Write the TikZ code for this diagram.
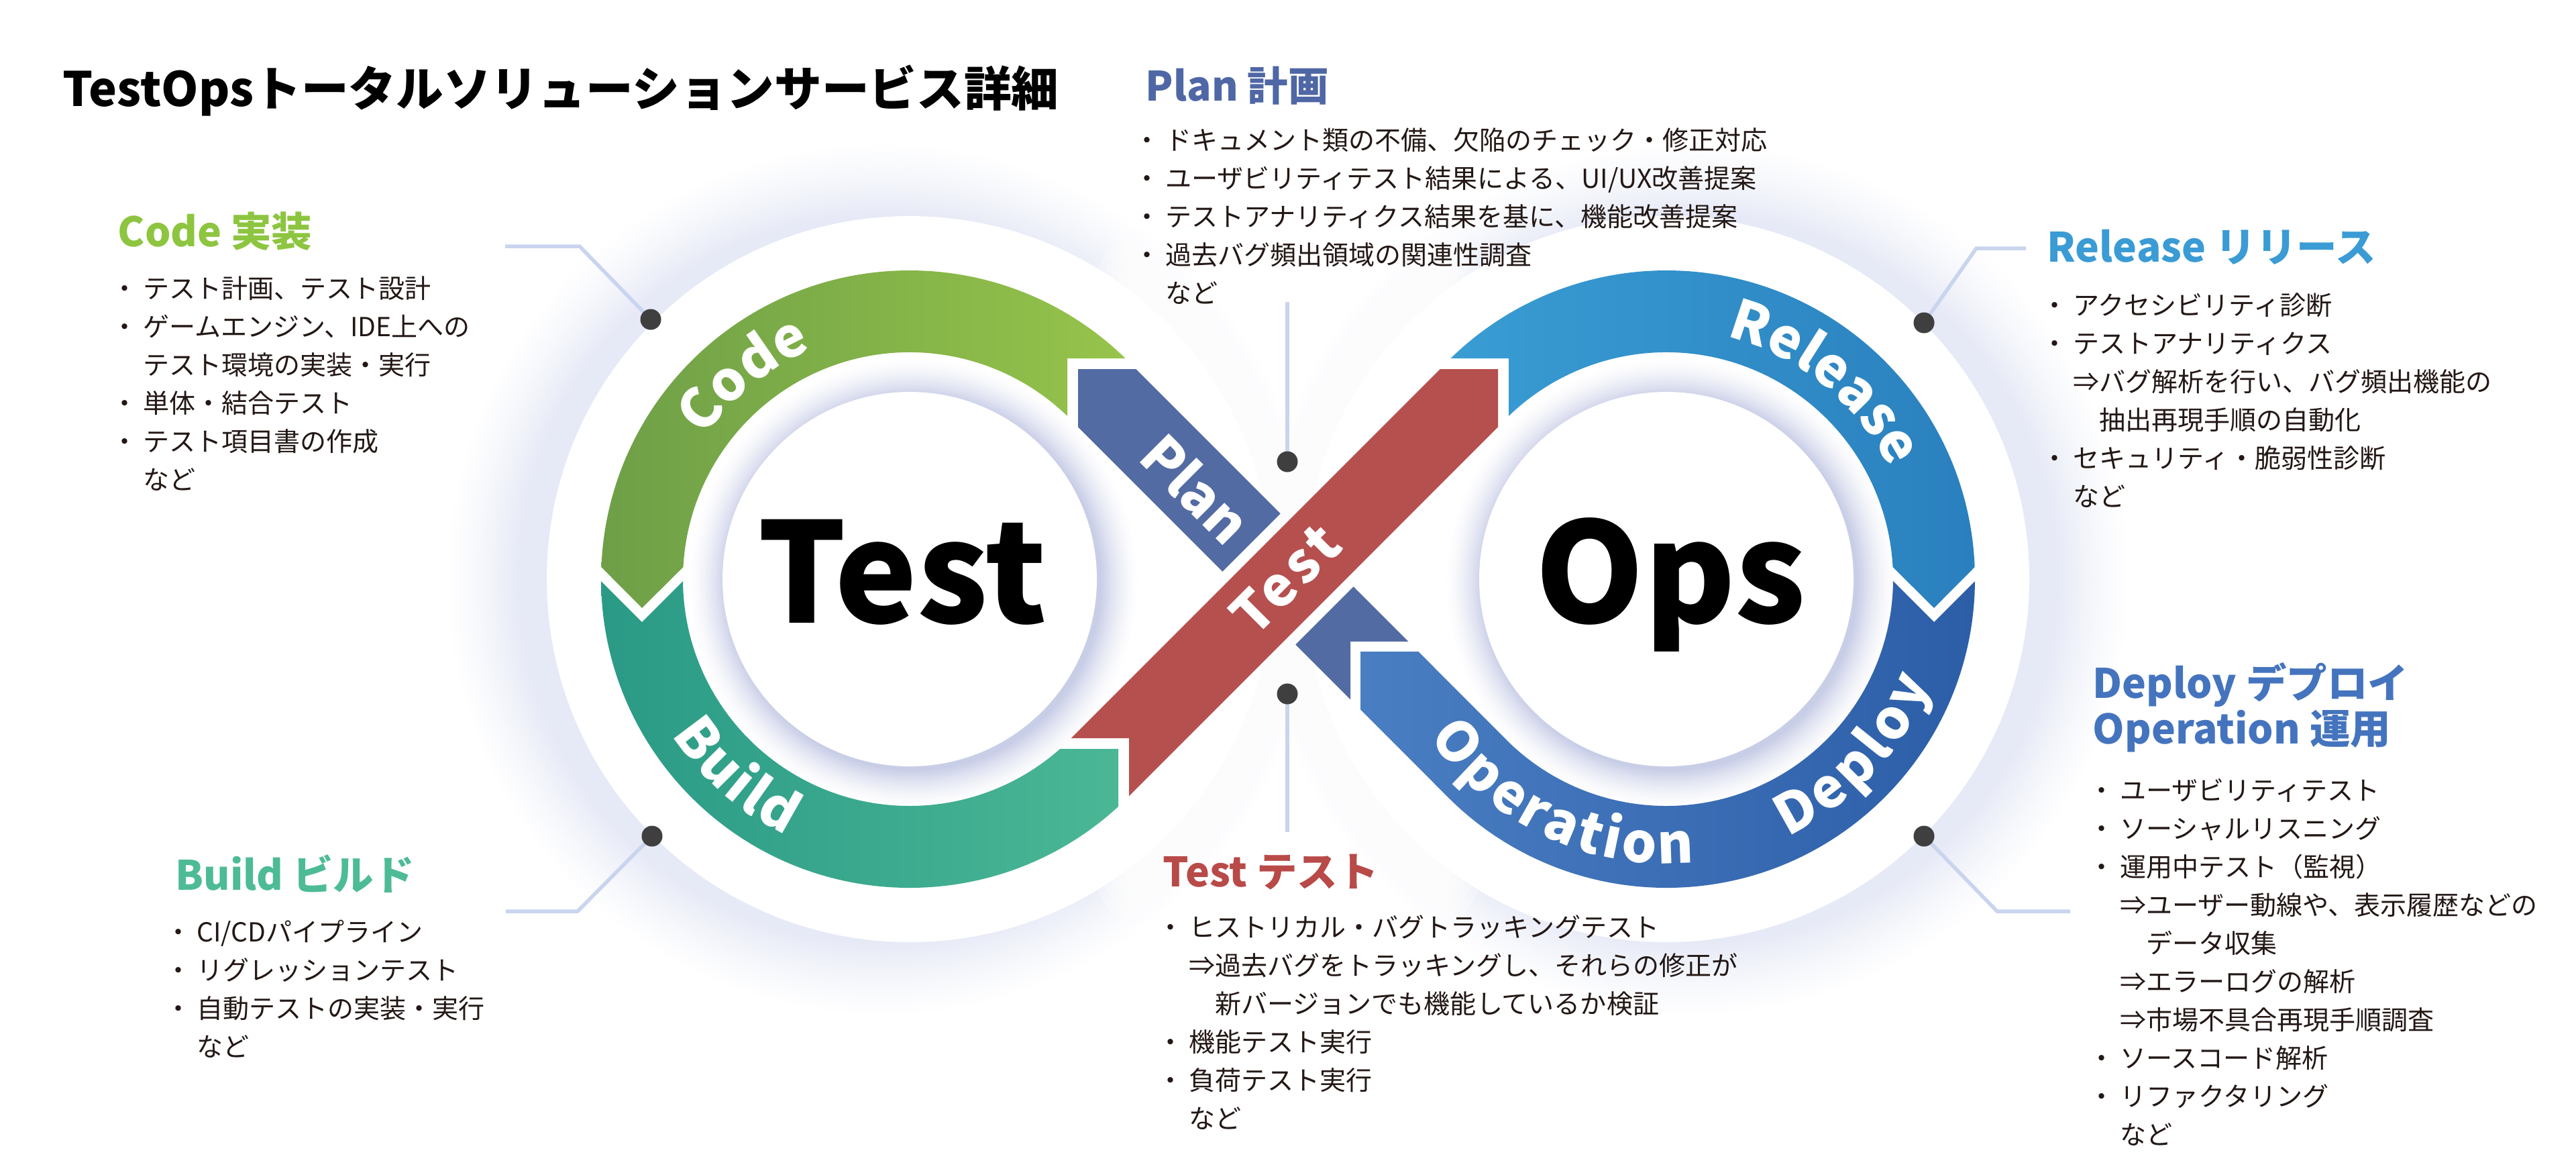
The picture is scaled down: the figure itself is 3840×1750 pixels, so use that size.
\documentclass[tikz,border=0pt]{standalone}
\usepackage{fontspec}
\setmainfont{Noto Sans CJK JP}
\usetikzlibrary{decorations.text}
\definecolor{codeL}{HTML}{9BC84B}
\definecolor{codeD}{HTML}{6E9F47}
\definecolor{buildL}{HTML}{4FBB97}
\definecolor{buildD}{HTML}{2A9A86}
\definecolor{relL}{HTML}{3BA0D6}
\definecolor{relD}{HTML}{2A80BE}
\definecolor{depL}{HTML}{4A7EC2}
\definecolor{depD}{HTML}{2C5EA8}
\definecolor{planc}{HTML}{536BA3}
\definecolor{testc}{HTML}{B5504E}
\definecolor{hPlanC}{HTML}{4F67A5}
\definecolor{hCodeC}{HTML}{8DC540}
\definecolor{hRelC}{HTML}{3A9BD5}
\definecolor{hBuildC}{HTML}{4DBB96}
\definecolor{hTestC}{HTML}{B84A48}
\definecolor{hDepC}{HTML}{4574BE}
\definecolor{bodyc}{HTML}{231815}
\definecolor{dotc}{HTML}{3F3F3F}
\definecolor{leadc}{HTML}{C9D4EE}
\definecolor{glowc}{HTML}{E6E9F6}
\definecolor{shadc}{HTML}{C9CEE7}
\newcommand\bul{\makebox[1.4em][c]{・}}
\newcommand\ind{\hspace*{1.4em}}
\newcommand\indd{\hspace*{1.4em}\hphantom{⇒}}
\newcommand\lblfont{\fontsize{23.3pt}{28pt}\selectfont\bfseries}
\begin{document}
\begin{tikzpicture}[x=0.01cm, y=-0.01cm,
  txt/.style={anchor=base west, inner sep=0pt, text=bodyc, font=\fontsize{11.1pt}{13pt}\selectfont},
  head/.style={anchor=base west, inner sep=0pt, font=\fontsize{17.2pt}{20pt}\selectfont\bfseries},
  big/.style={anchor=base, inner sep=0pt, font=\fontsize{58.9pt}{60pt}\selectfont\bfseries, text=black},
  bandlbl/.style={inner sep=0pt, text=white, font=\lblfont},
  leader/.style={draw=leadc, line width=0.055cm, line join=miter},
  dotn/.style={circle, fill=dotc, inner sep=0pt, minimum size=0.31cm},
  ringlbl/.style={decorate, decoration={text along path, text color=white, text align=fit to path, text={|\lblfont|#1}}}
]
\useasboundingbox (0,0) rectangle (3840,1750);
\fill[white] (0,0) rectangle (3840,1750);

% ---------------- geometry (y up) ----------------
\begin{scope}[shift={(0,1750)}, y=0.01cm]
  % outer halo glow
  \foreach \i in {0,...,30} {
    \pgfmathsetmacro\r{655-\i*114/30}
    \pgfmathsetmacro\p{100*(\i/30)^1.3}
    \fill[glowc!\p!white] (1316,887) circle (\r);
    \fill[glowc!\p!white] (2524,887) circle (\r);
  }
  % soft white mask between the two halos
  \foreach \k in {0,...,11} {
    \fill[white, opacity=0.3] (1920,887) ellipse [x radius={400-12*\k}, y radius={660-12*\k}];
  }
  \fill[white] (1356,887) circle (541);
  \fill[white] (2484,887) circle (541);
  % inner disk shadow
  \foreach \i in {0,...,24} {
    \pgfmathsetmacro\r{338-\i*58/24}
    \pgfmathsetmacro\p{100*(\i/24)^1.6}
    \fill[shadc!\p!white] (1362,881) circle (\r);
    \fill[shadc!\p!white] (2490,881) circle (\r);
  }
  \fill[white] (1356,887) circle (279);
  \fill[white] (2484,887) circle (279);

  % Code (green)
  \begin{scope}
    \clip (0,0) -- (1591,0) -- (1591,1216) -- (3840,1216) -- (3840,1750) -- (0,1750) -- cycle;
    \shade[left color=codeD, right color=codeL]
      ([shift={(1356,887)}]176.95:338) -- (957,844) -- ([shift={(1356,887)}]177.76:460)
      arc[start angle=177.76, end angle=25, radius=460]
      -- ([shift={(1356,887)}]25:338)
      arc[start angle=25, end angle=176.95, radius=338] -- cycle;
  \end{scope}
  % Build (teal)
  \begin{scope}
    \clip (0,0) -- (1667,0) -- (1667,634) -- (1356,634) -- (1356,1750) -- (0,1750) -- cycle;
    \shade[left color=buildD, right color=buildL]
      ([shift={(1356,887)}]180.4:460) -- (957,823) -- ([shift={(1356,887)}]180.5:338)
      arc[start angle=180.5, end angle=315, radius=338]
      -- (1695,748) -- (1781.2,661.9) -- ([shift={(1356,887)}]315:460)
      arc[start angle=315, end angle=180.4, radius=460] -- cycle;
  \end{scope}
  % Release (light blue)
  \begin{scope}
    \clip (3840,0) -- (2249,0) -- (2249,1216) -- (0,1216) -- (0,1750) -- (3840,1750) -- cycle;
    \shade[left color=relL, right color=relD]
      ([shift={(2484,887)}]3.05:338) -- (2883,844) -- ([shift={(2484,887)}]2.24:460)
      arc[start angle=2.24, end angle=155, radius=460]
      -- ([shift={(2484,887)}]155:338)
      arc[start angle=155, end angle=3.05, radius=338] -- cycle;
  \end{scope}
  % Deploy / Operation (blue)
  \shade[left color=depL, right color=depD]
    (2028,779) -- (2114.3,779) -- ([shift={(2484,887)}]225:338)
    arc[start angle=225, end angle=359.5, radius=338]
    -- (2883,823) -- ([shift={(2484,887)}]359.6:460)
    arc[start angle=359.6, end angle=225, radius=460]
    -- (2028,692.7) -- cycle;
  % Plan pieces
  \fill[planc] (1607,1200) -- (1693.3,1200) -- (1908.7,984.6) -- (1822.4,898.3) -- (1607,1113.7) -- cycle;
  \fill[planc] (2017.6,875.7) -- (2099.3,794) -- (2013,794) -- (2013,707.7) -- (1931.3,789.4) -- cycle;
  % Test (red)
  \fill[testc] (1596.7,650) -- (1683,650) -- (1683,563.7) -- (2233,1113.7) -- (2233,1200) -- (2146.7,1200) -- cycle;

  % ring labels
  \path[ringlbl=Code] ([shift={(1356,887)}]145.3:372) arc[start angle=145.3, end angle=114.1, radius=372];
  \path[ringlbl=Release] ([shift={(2484,887)}]76.1:372) arc[start angle=76.1, end angle=28.9, radius=372];
  \path[ringlbl=Build] ([shift={(1356,887)}]213.1:424) arc[start angle=213.1, end angle=244.2, radius=424];
  \path[ringlbl=Operation] ([shift={(2484,887)}]213.6:424) arc[start angle=213.6, end angle=275.6, radius=424];
  \path[ringlbl=Deploy] ([shift={(2484,887)}]295.2:424) arc[start angle=295.2, end angle=338.5, radius=424];
\end{scope}

% ---------------- labels on bands and centres ----------------
\node[bandlbl, rotate=-45] (planLbl) at (1783,728) {Plan};
\node[bandlbl, rotate=45] (testLbl) at (1916,863) {\addfontfeature{LetterSpace=8}Test};
\node[big] (bigTest) at (1345,928) {Test};
\node[big] (bigOps) at (2490,928) {Ops};

% ---------------- leaders ----------------
\coordinate (codeA) at (753,367);   \coordinate (codeB) at (864,367);   \coordinate (codeC) at (970,476);
\coordinate (buildA) at (754,1358); \coordinate (buildB) at (861,1358); \coordinate (buildC) at (972,1246);
\coordinate (relA) at (3020,370);   \coordinate (relB) at (2946,370);   \coordinate (relC) at (2868,481);
\coordinate (depA) at (3086,1358);  \coordinate (depB) at (2977,1358);  \coordinate (depC) at (2868,1246);
\coordinate (planA) at (1919,450);  \coordinate (planC) at (1919,688);
\coordinate (testA) at (1919,1240); \coordinate (testC) at (1919,1034);
\draw[leader] (codeA) -- (codeB) -- (codeC);
\draw[leader] (buildA) -- (buildB) -- (buildC);
\draw[leader] (relA) -- (relB) -- (relC);
\draw[leader] (depA) -- (depB) -- (depC);
\draw[leader] (planA) -- (planC);
\draw[leader] (testA) -- (testC);
\node[dotn] (codeDot) at (codeC) {};
\node[dotn] (buildDot) at (buildC) {};
\node[dotn] (relDot) at (relC) {};
\node[dotn] (depDot) at (depC) {};
\node[dotn] (planDot) at (planC) {};
\node[dotn] (testDot) at (testC) {};

% ---------------- texts ----------------
\node[anchor=base west, inner sep=0pt, font=\fontsize{20.1pt}{22pt}\selectfont\bfseries] (title) at (93,158) {TestOpsトータルソリューションサービス詳細};

\node[head, text=hPlanC] (headPlan) at (1707,150) {Plan 計画};
\node[head, text=hCodeC] (headCode) at (175,367) {Code 実装};
\node[head, text=hRelC] (headRel) at (3051,390) {Release リリース};
\node[head, text=hBuildC] (headBuild) at (261,1326) {Build ビルド};
\node[head, text=hTestC] (headTest) at (1733,1321) {Test テスト};
\node[head, text=hDepC] (headDep) at (3119,1040) {Deploy デプロイ};
\node[head, text=hDepC] (headOp) at (3119,1108) {Operation 運用};

\foreach \t [count=\i] in {{\bul ドキュメント類の不備、欠陥のチェック・修正対応},{\bul ユーザビリティテスト結果による、UI/UX改善提案},{\bul テストアナリティクス結果を基に、機能改善提案},{\bul 過去バグ頻出領域の関連性調査},{\ind など}}
  \node[txt] (plan\i) at (1682,{223+(\i-1)*57}) {\t};

\foreach \t [count=\i] in {{\bul テスト計画、テスト設計},{\bul ゲームエンジン、IDE上への},{\ind テスト環境の実装・実行},{\bul 単体・結合テスト},{\bul テスト項目書の作成},{\ind など}}
  \node[txt] (code\i) at (158,{444+(\i-1)*57}) {\t};

\foreach \t [count=\i] in {{\bul アクセシビリティ診断},{\bul テストアナリティクス},{\ind ⇒バグ解析を行い、バグ頻出機能の},{\indd 抽出再現手順の自動化},{\bul セキュリティ・脆弱性診断},{\ind など}}
  \node[txt] (rel\i) at (3035,{469+(\i-1)*57}) {\t};

\foreach \t [count=\i] in {{\bul CI/CDパイプライン},{\bul リグレッションテスト},{\bul 自動テストの実装・実行},{\ind など}}
  \node[txt] (build\i) at (238,{1403+(\i-1)*57}) {\t};

\foreach \t [count=\i] in {{\bul ヒストリカル・バグトラッキングテスト},{\ind ⇒過去バグをトラッキングし、それらの修正が},{\indd 新バージョンでも機能しているか検証},{\bul 機能テスト実行},{\bul 負荷テスト実行},{\ind など}}
  \node[txt] (test\i) at (1717,{1396+(\i-1)*57}) {\t};

\foreach \t [count=\i] in {{\bul ユーザビリティテスト},{\bul ソーシャルリスニング},{\bul 運用中テスト（監視）},{\ind ⇒ユーザー動線や、表示履歴などの},{\indd データ収集},{\ind ⇒エラーログの解析},{\ind ⇒市場不具合再現手順調査},{\bul ソースコード解析},{\bul リファクタリング},{\ind など}}
  \node[txt] (dep\i) at (3105,{1192+(\i-1)*57}) {\t};
\end{tikzpicture}
\end{document}
